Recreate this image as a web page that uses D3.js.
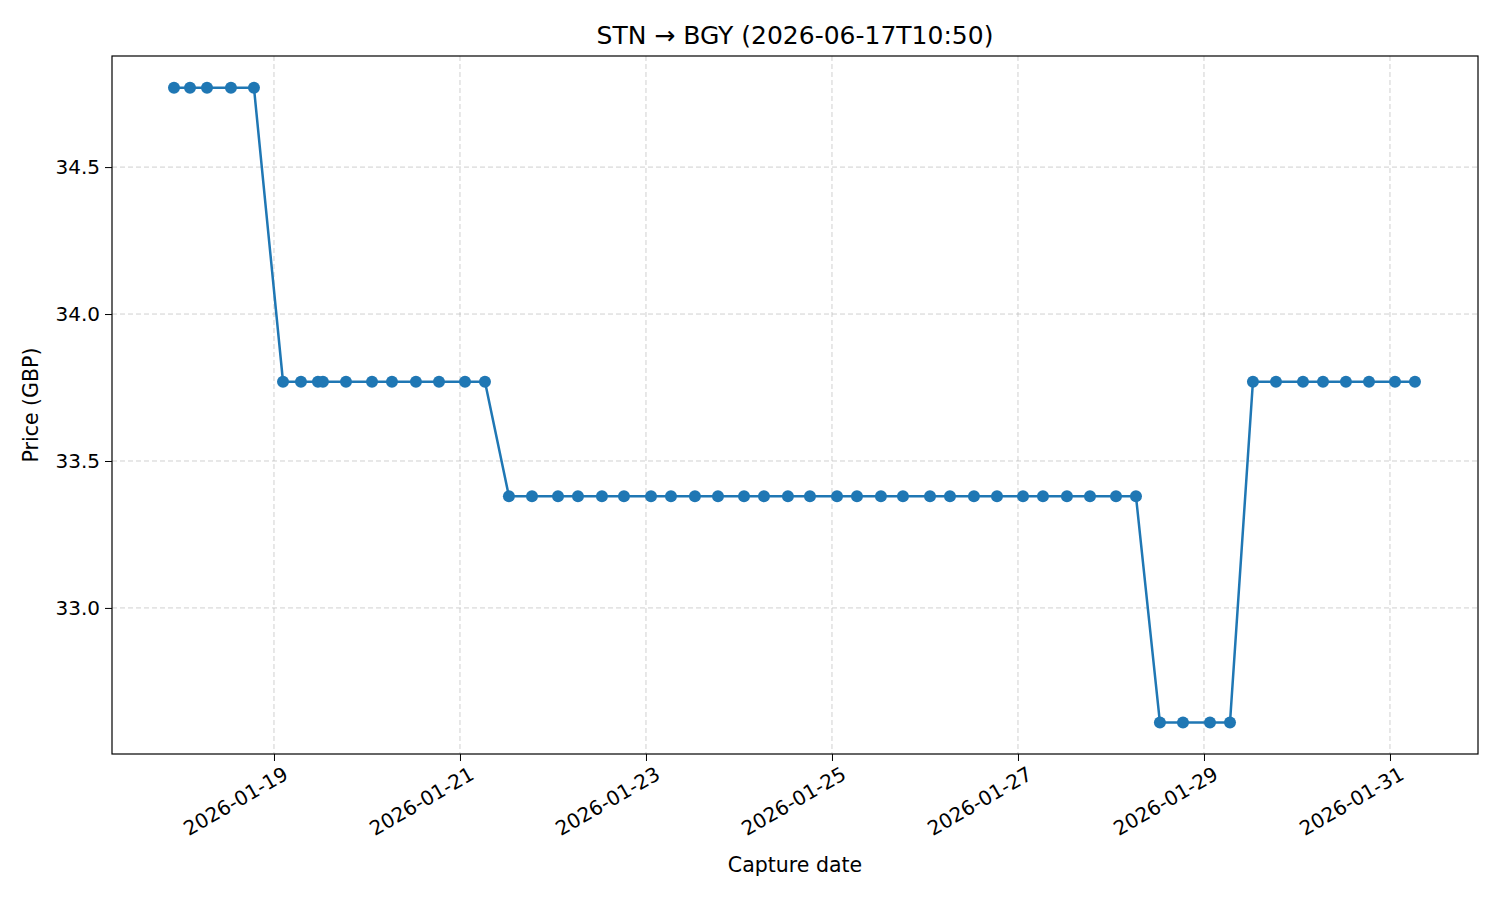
<!DOCTYPE html>
<html><head><meta charset="utf-8">
<script src="https://cdn.jsdelivr.net/npm/d3@7"></script>
<style>body{margin:0;background:#fff}text{font-family:"DejaVu Sans",sans-serif}</style>
</head><body><svg id="c" width="1500" height="900"></svg>
<script>
const captureTimes = [
"2026-01-17T22:12","2026-01-18T02:20","2026-01-18T06:43","2026-01-18T12:54","2026-01-18T18:50",
"2026-01-19T02:20","2026-01-19T06:58","2026-01-19T11:21","2026-01-19T12:38","2026-01-19T18:35",
"2026-01-20T01:18","2026-01-20T06:27","2026-01-20T12:38","2026-01-20T18:35","2026-01-21T01:18","2026-01-21T06:27",
"2026-01-21T12:38","2026-01-21T18:35","2026-01-22T01:18","2026-01-22T06:27","2026-01-22T12:38","2026-01-22T18:19",
"2026-01-23T01:18","2026-01-23T06:27","2026-01-23T12:38","2026-01-23T18:35","2026-01-24T01:18","2026-01-24T06:27",
"2026-01-24T12:38","2026-01-24T18:19","2026-01-25T01:18","2026-01-25T06:27","2026-01-25T12:38","2026-01-25T18:19",
"2026-01-26T01:18","2026-01-26T06:27","2026-01-26T12:38","2026-01-26T18:35","2026-01-27T01:18","2026-01-27T06:27",
"2026-01-27T12:38","2026-01-27T18:35","2026-01-28T01:18","2026-01-28T06:27",
"2026-01-28T12:38","2026-01-28T18:35","2026-01-29T01:33","2026-01-29T06:43",
"2026-01-29T12:38","2026-01-29T18:35","2026-01-30T01:33","2026-01-30T06:43","2026-01-30T12:38","2026-01-30T18:35",
"2026-01-31T01:18","2026-01-31T06:27"];
const prices = [
34.77,34.77,34.77,34.77,34.77,
33.77,33.77,33.77,33.77,33.77,33.77,33.77,33.77,33.77,33.77,33.77,
33.38,33.38,33.38,33.38,33.38,33.38,33.38,33.38,33.38,33.38,33.38,33.38,33.38,33.38,
33.38,33.38,33.38,33.38,33.38,33.38,33.38,33.38,33.38,33.38,33.38,33.38,33.38,33.38,
32.61,32.61,32.61,32.61,
33.77,33.77,33.77,33.77,33.77,33.77,33.77,33.77];
const yTicks = [33.0,33.5,34.0,34.5];
const xTickDates = ["2026-01-19","2026-01-21","2026-01-23","2026-01-25","2026-01-27","2026-01-29","2026-01-31"];

const parse = d3.timeParse("%Y-%m-%dT%H:%M"), pd = d3.timeParse("%Y-%m-%d");
const data = captureTimes.map((t,i)=>({t:parse(t),p:prices[i]}));
const L=112,T=56,R=1478,B=754;
const svg=d3.select("#c");
const x=d3.scaleTime().domain([parse("2026-01-17T06:12"),parse("2026-01-31T22:43")]).range([L,R]);
const y=d3.scaleLinear().domain([32.503,34.878]).range([B,T]);
const g=svg.append("g");
g.selectAll(".gx").data(xTickDates).join("line").attr("x1",d=>x(pd(d))).attr("x2",d=>x(pd(d))).attr("y1",T).attr("y2",B)
 .attr("stroke","#b0b0b0").attr("stroke-opacity",0.6).attr("stroke-dasharray","5,3");
g.selectAll(".gy").data(yTicks).join("line").attr("y1",d=>y(d)).attr("y2",d=>y(d)).attr("x1",L).attr("x2",R)
 .attr("stroke","#b0b0b0").attr("stroke-opacity",0.6).attr("stroke-dasharray","5,3");
const xa=svg.append("g").attr("transform",`translate(0,${B})`).call(d3.axisBottom(x).tickValues(xTickDates.map(pd)).tickFormat(d3.timeFormat("%Y-%m-%d")).tickSize(7).tickSizeOuter(0));
xa.selectAll("text").attr("font-size",20).attr("text-anchor","end").attr("y",0).attr("dy","0.7em").attr("dx",0)
 .attr("transform","translate(8,12) rotate(-30)");
const ya=svg.append("g").attr("transform",`translate(${L},0)`).call(d3.axisLeft(y).tickValues(yTicks).tickFormat(d3.format(".1f")).tickSize(7).tickSizeOuter(0));
ya.selectAll("text").attr("font-size",20).attr("dx",-2);
svg.selectAll(".domain").remove();
svg.selectAll(".tick line").attr("stroke","#000");
svg.selectAll(".tick text").attr("fill","#000").attr("font-family","DejaVu Sans");
svg.append("rect").attr("x",L).attr("y",T).attr("width",R-L).attr("height",B-T).attr("fill","none").attr("stroke","#000").attr("stroke-width",1.2);
svg.append("path").datum(data).attr("fill","none").attr("stroke","#1f77b4").attr("stroke-width",2.5)
 .attr("d",d3.line().x(d=>x(d.t)).y(d=>y(d.p)));
svg.selectAll(".pt").data(data).join("circle").attr("cx",d=>x(d.t)).attr("cy",d=>y(d.p)).attr("r",6).attr("fill","#1f77b4");
svg.append("text").attr("x",(L+R)/2).attr("y",44).attr("text-anchor","middle").attr("font-size",25).text("STN → BGY (2026-06-17T10:50)");
svg.append("text").attr("x",(L+R)/2).attr("y",872).attr("text-anchor","middle").attr("font-size",20.5).text("Capture date");
svg.append("text").attr("transform",`translate(38,${(T+B)/2}) rotate(-90)`).attr("text-anchor","middle").attr("font-size",20.5).text("Price (GBP)");
</script></body></html>
